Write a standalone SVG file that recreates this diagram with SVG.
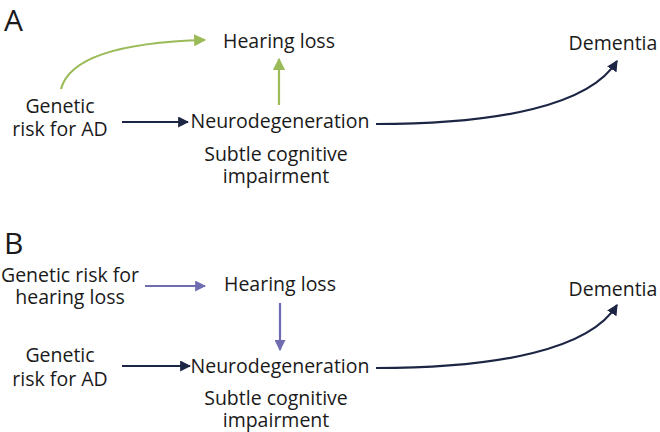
<svg xmlns="http://www.w3.org/2000/svg" width="660" height="432" viewBox="0 0 660 432">
<defs>
<style>
text{font-family:"Open Sans","Noto Sans","DejaVu Sans",sans-serif;font-size:19.5px;fill:#1a1a1a;text-anchor:middle}
.lbl{font-size:30px;text-anchor:start}
.c{fill:none;stroke-width:2.2}
.g{stroke:#9bbb59}
.p{stroke:#6f6cb2}
.d{stroke:#1c2543}
</style>
<marker id="ag" viewBox="0 0 10 10" refX="9" refY="5" markerWidth="5.5" markerHeight="5.5" orient="auto" markerUnits="strokeWidth"><path d="M0,0L10,5L0,10z" fill="#9bbb59"/></marker>
<marker id="ap" viewBox="0 0 10 10" refX="9" refY="5" markerWidth="5" markerHeight="5" orient="auto" markerUnits="strokeWidth"><path d="M0,0L10,5L0,10z" fill="#6f6cb2"/></marker>
<marker id="ad" viewBox="0 0 10 10" refX="9" refY="5" markerWidth="5" markerHeight="5" orient="auto" markerUnits="strokeWidth"><path d="M0,0L10,5L0,10z" fill="#1c2543"/></marker>
</defs>
<text class="lbl" x="4" y="31">A</text>
<text class="lbl" x="4" y="254">B</text>
<g id="a-genetic-ad"><text x="60" y="113">Genetic</text><text x="60" y="136">risk for AD</text></g>
<g id="a-hearing"><text x="279" y="48">Hearing loss</text></g>
<g id="a-neuro"><text x="280" y="128">Neurodegeneration</text><text x="276" y="161">Subtle cognitive</text><text x="276" y="183">impairment</text></g>
<g id="a-dementia"><text x="613" y="50">Dementia</text></g>
<g id="b-genetic-hl"><text x="70" y="282">Genetic risk for</text><text x="70" y="304">hearing loss</text></g>
<g id="b-hearing"><text x="280" y="291">Hearing loss</text></g>
<g id="b-genetic-ad"><text x="60" y="362">Genetic</text><text x="60" y="386">risk for AD</text></g>
<g id="b-neuro"><text x="280" y="373">Neurodegeneration</text><text x="276" y="405">Subtle cognitive</text><text x="276" y="427">impairment</text></g>
<g id="b-dementia"><text x="613" y="296">Dementia</text></g>
<g id="connectors">
<path class="c g" d="M61,89 C70,55 130,42 205,40" marker-end="url(#ag)"/>
<path class="c g" d="M279,105 V59" marker-end="url(#ag)"/>
<path class="c d" d="M122,122 H188" marker-end="url(#ad)"/>
<path class="c d" d="M376,124 C500,124 590,105 617,61" marker-end="url(#ad)"/>
<path class="c p" d="M145,286 H205" marker-end="url(#ap)"/>
<path class="c p" d="M280,303 V350" marker-end="url(#ap)"/>
<path class="c d" d="M122,366 H190" marker-end="url(#ad)"/>
<path class="c d" d="M376,368 C500,368 590,349 617,305" marker-end="url(#ad)"/>
</g>
</svg>
